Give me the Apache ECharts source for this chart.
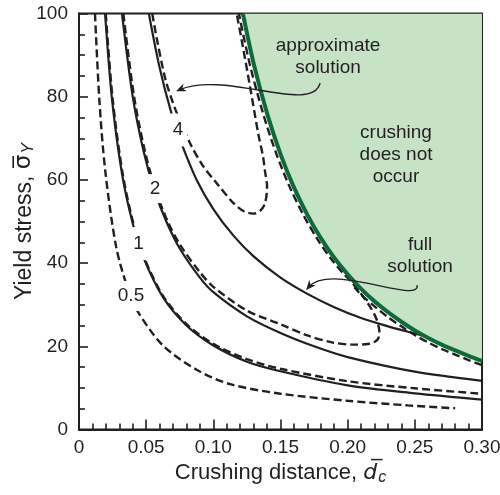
<!DOCTYPE html>
<html><head><meta charset="utf-8">
<script src="https://cdn.jsdelivr.net/npm/echarts@6/dist/echarts.min.js"></script>
<style>html,body{margin:0;padding:0;background:#fff}#c{width:500px;height:495px}</style>
</head><body><div id="c"></div>
<script>
// ---- tick values ----
const xTicks = [0, 0.05, 0.10, 0.15, 0.20, 0.25, 0.30];
const yTicks = [0, 20, 40, 60, 80, 100];

// ---- boundary of region where crushing does not occur (d, sigma) ----
const boundary = [[0.122,100],[0.13,88],[0.14,76],[0.15,66.2],[0.16,58.2],[0.17,51.6],[0.18,46],[0.19,41.3],[0.20,37.3],[0.21,33.8],[0.22,30.8],[0.23,28.2],[0.24,25.9],[0.25,23.8],[0.26,22.0],[0.27,20.4],[0.28,19.0],[0.29,17.7],[0.30,16.5]];

// ---- full solution (solid) ----
const full1 = [[0.0194,100],[0.0246,79.3],[0.032,61.5],[0.04,49.5],[0.048,41.3],[0.0625,31.8],[0.08,25],[0.1,20.2],[0.125,16.3],[0.15,14.0],[0.2,10.6],[0.25,8.7],[0.30,7.2]];
const full2 = [[0.032,100],[0.040,80],[0.048,67],[0.056,57.6],[0.065,50],[0.075,43.5],[0.09,36.5],[0.1,33],[0.125,27.2],[0.15,23.2],[0.175,20],[0.2,17.4],[0.25,13.9],[0.30,11.7]];
const full4 = [[0.052,100],[0.060,87],[0.069,75.8],[0.0765,68.6],[0.0876,60],[0.1,53],[0.115,46.6],[0.13,41.6],[0.15,36.5],[0.17,32.6],[0.19,29.4],[0.21,26.8],[0.23,24.8],[0.245,23.5],[0.258,22.4]];

// ---- approximate solution (dashed) ----
const approxHalf = [[0.0119,100],[0.0152,79],[0.0196,62],[0.0276,44],[0.0357,34.5],[0.0439,28.3],[0.0625,20.2],[0.0879,14.3],[0.1124,10.9],[0.15,8.6],[0.2,6.9],[0.245,5.8],[0.28,5.1]];
const approx1 = [[0.0199,100],[0.0251,79.3],[0.0325,61.5],[0.0405,49.5],[0.0485,41.3],[0.063,31.9],[0.0805,25.2],[0.1,20.6],[0.125,16.9],[0.15,14.6],[0.2,11.6],[0.25,9.9],[0.30,8.6]];
const approx1Upper = [[0.30,15.5],[0.29,16.7],[0.28,18.0],[0.27,19.35],[0.26,20.9],[0.25,22.7],[0.24,24.8],[0.23,27.0],[0.22,29.6],[0.21,32.4],[0.205,34.2]];
const approx2 = [[0.033,100],[0.041,80],[0.049,67],[0.057,57.6],[0.066,50],[0.076,44],[0.09,37.8],[0.1,34.3],[0.125,28.6],[0.15,25.3],[0.17,22.6],[0.189,20.9],[0.204,20.4],[0.216,20.6],[0.2222,21.6],[0.2236,23.4],[0.2215,26.5],[0.2167,29.5],[0.2095,32.8],[0.2025,35.6],[0.1965,37.6],[0.187,41.3],[0.177,46],[0.167,51.6],[0.157,58.2],[0.147,66.2],[0.137,76],[0.127,88],[0.119,100]];
const approx4 = [[0.0545,100],[0.0585,93],[0.0645,84],[0.0718,76.9],[0.0827,68.8],[0.092,63.5],[0.1025,59.2],[0.115,54.4],[0.123,52.4],[0.13,51.9],[0.135,52.6],[0.1385,54.4],[0.14,58.4],[0.1385,62],[0.137,65.6],[0.1335,71],[0.127,83],[0.122,92],[0.1174,100]];

// ---- curve labels: text, d, sigma ----
const curveLabels = [['0.5',0.0387,32.1],['1',0.0443,44.7],['2',0.0566,57.9],['4',0.0737,72.0]];

const INK = '#231f20';
const FONT = '"Liberation Sans", Arial, Helvetica, sans-serif';
const chart = echarts.init(document.getElementById('c'), null, {renderer:'canvas'});

function curve(data, dashed) {
  return {type:'line', data, symbol:'none', showSymbol:false, smooth:0.3, silent:true, animation:false, z:3,
    lineStyle:{color:INK, width: dashed ? 2.4 : 2.2, type: dashed ? [8,4] : 'solid', cap:'butt'}};
}
const labelPad = {'0.5':[6,1,5,1], '1':[7,3,7,3], '2':[5,3,5,3], '4':[7,4,7,4]};

const option = {
  animation:false,
  grid:{left:79, right:18, top:13.5, bottom:65.5, containLabel:false, outerBoundsMode:'none',
    show:true, borderColor:INK, borderWidth:2, backgroundColor:'transparent'},
  xAxis:{type:'value', min:xTicks[0], max:xTicks[xTicks.length-1], interval:xTicks[1]-xTicks[0],
    axisLine:{lineStyle:{color:INK, width:2}},
    axisTick:{inside:true, length:10, lineStyle:{color:INK, width:1.6}},
    minorTick:{show:true, splitNumber:5, length:6, lineStyle:{color:INK, width:1.6}},
    splitLine:{show:false}, minorSplitLine:{show:false},
    axisLabel:{fontSize:19, color:INK, fontFamily:FONT, margin:9, formatter:v => v===0 ? '0' : v.toFixed(2)},
    name:'{t|Crushing distance, }{v|d\u0305}{s|c}', nameLocation:'middle', nameGap:25,
    nameTextStyle:{rich:{t:{fontSize:22, fontFamily:FONT, color:INK}, v:{fontSize:22, fontStyle:'italic', fontFamily:'"DejaVu Sans"', color:INK}, s:{fontSize:16, fontStyle:'italic', fontFamily:FONT, color:INK, padding:[9,0,0,1]}}}
  },
  yAxis:{type:'value', min:yTicks[0], max:yTicks[yTicks.length-1], interval:yTicks[1]-yTicks[0],
    axisLine:{lineStyle:{color:INK, width:2}},
    axisTick:{inside:true, length:9, lineStyle:{color:INK, width:1.6}},
    minorTick:{show:true, splitNumber:4, length:6, lineStyle:{color:INK, width:1.6}},
    splitLine:{show:false}, minorSplitLine:{show:false},
    axisLabel:{fontSize:19, color:INK, fontFamily:FONT, margin:11},
    name:'{t|Yield stress, }{v|\u03c3\u0305}{s|Y}', nameLocation:'middle', nameGap:42, nameRotate:90, nameMoveOverlap:false,
    nameTextStyle:{rich:{t:{fontSize:23, fontFamily:FONT, color:INK}, v:{fontSize:23, fontFamily:'"DejaVu Sans"', color:INK}, s:{fontSize:16, fontStyle:'italic', fontFamily:FONT, color:INK, padding:[9,0,0,1]}}}
  },
  series:[
    {type:'line', data:boundary, symbol:'none', showSymbol:false, silent:true, z:1,
      lineStyle:{width:0}, areaStyle:{color:'#c6e3c6', origin:'end', opacity:1}},
    curve(approxHalf, true),
    curve(full1, false), curve(approx1, true), curve(approx1Upper, true),
    curve(full2, false), curve(approx2, true),
    curve(full4, false), curve(approx4, true),
    {type:'line', data:boundary, symbol:'none', showSymbol:false, silent:true, z:4, smooth:0.3,
      lineStyle:{color:'#0e6a37', width:4}}
  ]
};
chart.setOption(option);

// ---- annotations (anchored in data coordinates) ----
const P = (d, v) => chart.convertToPixel({gridIndex:0}, [d, v]);
function arrow(p0, p1, p2, p3) {
  const a = P(...p0), b = P(...p1), c = P(...p2), e = P(...p3);
  let ux = e[0]-c[0], uy = e[1]-c[1]; const L = Math.hypot(ux, uy); ux/=L; uy/=L;
  const nx = -uy, ny = ux, len = 10, w = 4.2;
  const bx = e[0]-ux*len, by = e[1]-uy*len;
  return [
    {type:'bezierCurve', z:100, silent:true, shape:{x1:a[0], y1:a[1], cpx1:b[0], cpy1:b[1], cpx2:c[0], cpy2:c[1], x2:e[0]-ux*4, y2:e[1]-uy*4},
      style:{stroke:INK, lineWidth:1.3, fill:null}},
    {type:'polygon', z:101, silent:true, shape:{points:[[e[0],e[1]],[bx+nx*w,by+ny*w],[e[0]-ux*7,e[1]-uy*7],[bx-nx*w,by-ny*w]]},
      style:{fill:INK}}
  ];
}
function label(txt, d, v, extra) {
  const p = P(d, v);
  return {type:'text', z:100, silent:true, x:p[0], y:p[1],
    style:Object.assign({text:txt, fontSize:19, fontFamily:FONT, fill:INK, align:'center', verticalAlign:'middle', lineHeight:22}, extra || {})};
}
chart.setOption({graphic:[
  ...curveLabels.map(l => label(l[0], l[1], l[2], {backgroundColor:'#fff', padding:labelPad[l[0]], lineHeight:19})),
  label('approximate\nsolution', 0.1854, 89.5),
  label('crushing\ndoes not\noccur', 0.236, 66),
  label('full\nsolution', 0.2539, 41.8),
  ...arrow([0.1795,83.3],[0.1735,75.6],[0.1087,86.4],[0.0722,81.3]),
  ...arrow([0.2517,34.7],[0.2539,29.9],[0.1869,40.3],[0.169,33.5])
]});
</script>
</body></html>
